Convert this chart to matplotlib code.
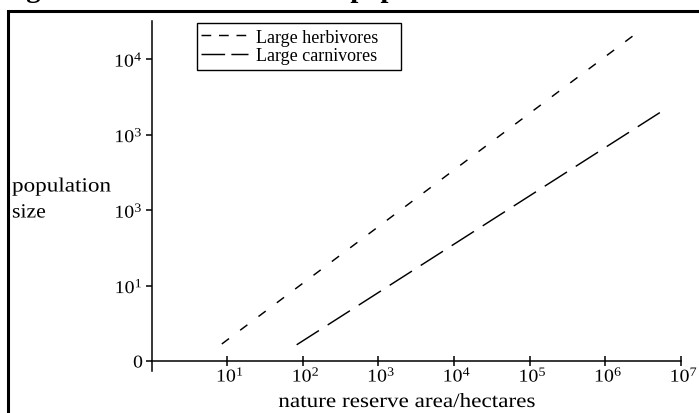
import matplotlib
matplotlib.use('Agg')
import matplotlib.pyplot as plt
from matplotlib.patheffects import AbstractPathEffect
from matplotlib.transforms import Affine2D
from matplotlib.path import Path
from matplotlib.patches import Rectangle
from matplotlib.legend_handler import HandlerLine2D

# ---------------- data ----------------
series_names = ['Large herbivores', 'Large carnivores']
herb_area = [8.5, 2.34e6]
herb_size = [1.68, 2.04e4]
carn_area = [83, 5.25e6]
carn_size = [1.64, 1950]

x_ticks = [1e1, 1e2, 1e3, 1e4, 1e5, 1e6, 1e7]
x_tick_labels = [r'$\mathregular{10^{1}}$', r'$\mathregular{10^{2}}$', r'$\mathregular{10^{3}}$',
                 r'$\mathregular{10^{4}}$', r'$\mathregular{10^{5}}$', r'$\mathregular{10^{6}}$',
                 r'$\mathregular{10^{7}}$']
y_ticks = [1, 10, 100, 1000, 10000]
y_tick_labels = ['0', r'$\mathregular{10^{1}}$', r'$\mathregular{10^{3}}$',
                 r'$\mathregular{10^{3}}$', r'$\mathregular{10^{4}}$']
x_label = 'nature reserve area/hectares'
y_label_lines = ['population', 'size']
title = 'Fig 4.2 The minimum viable population'

# ---------------- style ----------------
plt.rcParams['font.family'] = ['Liberation Serif', 'DejaVu Serif']
plt.rcParams['mathtext.fontset'] = 'custom'
plt.rcParams['mathtext.rm'] = 'Liberation Serif'
plt.rcParams['mathtext.it'] = 'Liberation Serif:italic'
plt.rcParams['mathtext.bf'] = 'Liberation Serif:bold'
plt.rcParams['lines.scale_dashes'] = False

TICK_FS = 13
LABEL_FS = 14.5
LEG_FS = 13
W, H = 699, 414


def fx(x):
    return x / W


def fy(y):
    return 1 - y / H


class Stretch(AbstractPathEffect):
    """Horizontally widen glyphs (the reference text is set with wide tracking)."""

    def __init__(self, sx, anchor='center', dx=0.0):
        super().__init__()
        self.sx = sx
        self.anchor = anchor
        self.dx = dx

    def draw_path(self, renderer, gc, tpath, affine, rgbFace=None):
        v = tpath.vertices
        codes = tpath.codes
        vv = v[codes != Path.CLOSEPOLY] if codes is not None else v
        if len(vv):
            xmin, xmax = vv[:, 0].min(), vv[:, 0].max()
        else:
            xmin = xmax = 0
        a = {'left': 0.0, 'center': (xmin + xmax) / 2, 'right': xmax}[self.anchor]
        t = Affine2D().translate(-a, 0).scale(self.sx, 1).translate(a, 0)
        renderer.draw_path(gc, tpath, t + affine + Affine2D().translate(self.dx, 0), rgbFace)


def handle_dashes(pattern):
    def update(legend_handle, orig_handle):
        legend_handle.update_from(orig_handle)
        legend_handle.set_dashes(pattern)
    return HandlerLine2D(update_func=update)


fig = plt.figure(figsize=(W / 100, H / 100), dpi=100)

# outer frame (cut off at right and bottom like the scan)
fig.add_artist(Rectangle((fx(8), fy(430)), fx(720 - 8), (430 - 12) / H, fill=False,
                         lw=2.2, edgecolor='black', transform=fig.transFigure, clip_on=False))

# title (mostly cut off at the top, as in the scanned page)
fig.text(fx(1), 1 + 3.4 / H, title, fontsize=20.5, fontweight='bold', ha='left', va='baseline')

ax = fig.add_axes([fx(151.5), fy(372), fx(681) - fx(151.5), (372 - 22) / H])
ax.set_xscale('log')
ax.set_yscale('log')
ax.set_xlim(1, 1e7)
ax.set_ylim(10 ** (-10 / 75.5), 10 ** (340 / 75.5))
ax.patch.set_visible(False)

l1, = ax.plot(herb_area, herb_size, color='black', lw=1.05, dashes=(6.5, 10.0),
              label=series_names[0])
l2, = ax.plot(carn_area, carn_size, color='black', lw=1.05, dashes=(19.0, 7.5),
              label=series_names[1])

for s in ['top', 'right']:
    ax.spines[s].set_visible(False)
ax.spines['bottom'].set_position(('data', 1))
for s in ['left', 'bottom']:
    ax.spines[s].set_linewidth(1.1)
    ax.spines[s].set_color('black')

ax.set_xticks(x_ticks)
ax.set_xticklabels(x_tick_labels)
ax.set_yticks(y_ticks)
ax.set_yticklabels(y_tick_labels)
ax.minorticks_off()
ax.tick_params(axis='x', direction='inout', length=6.5, width=1.1, pad=0.5, labelsize=TICK_FS,
               colors='black')
ax.tick_params(axis='y', direction='out', length=4.3, width=1.1, pad=2, labelsize=TICK_FS,
               colors='black')

for lbl in ax.get_xticklabels():
    lbl.set_path_effects([Stretch(1.1, 'center', dx=3)])
for lbl in ax.get_yticklabels():
    lbl.set_path_effects([Stretch(1.1, 'right')])

# axis titles
fig.text(fx(407), fy(408), x_label, fontsize=LABEL_FS, ha='center', va='baseline',
         path_effects=[Stretch(1.15, 'center')])
fig.text(fx(12), fy(192.5), y_label_lines[0], fontsize=LABEL_FS, ha='left', va='baseline',
         path_effects=[Stretch(1.15, 'left')])
fig.text(fx(12), fy(218.5), y_label_lines[1], fontsize=LABEL_FS, ha='left', va='baseline',
         path_effects=[Stretch(1.08, 'left')])

# legend: entries from the library, frame drawn to the reference box
leg = ax.legend(handles=[l1, l2], loc='upper left',
                bbox_to_anchor=(fx(197), fy(26)),
                bbox_transform=fig.transFigure, frameon=False, borderpad=0.2,
                borderaxespad=0, handlelength=2.6, handletextpad=0.45, labelspacing=0.07,
                prop={'family': 'Liberation Serif', 'size': LEG_FS},
                handler_map={l1: handle_dashes((7.0, 5.6)), l2: handle_dashes((17.0, 4.5))})
fig.add_artist(Rectangle((fx(197.5), fy(71)), fx(401) - fx(197.5), (71 - 23.5) / H, fill=False,
                         lw=1.0, edgecolor='black', transform=fig.transFigure))

fig.savefig('out.png', dpi=100)
